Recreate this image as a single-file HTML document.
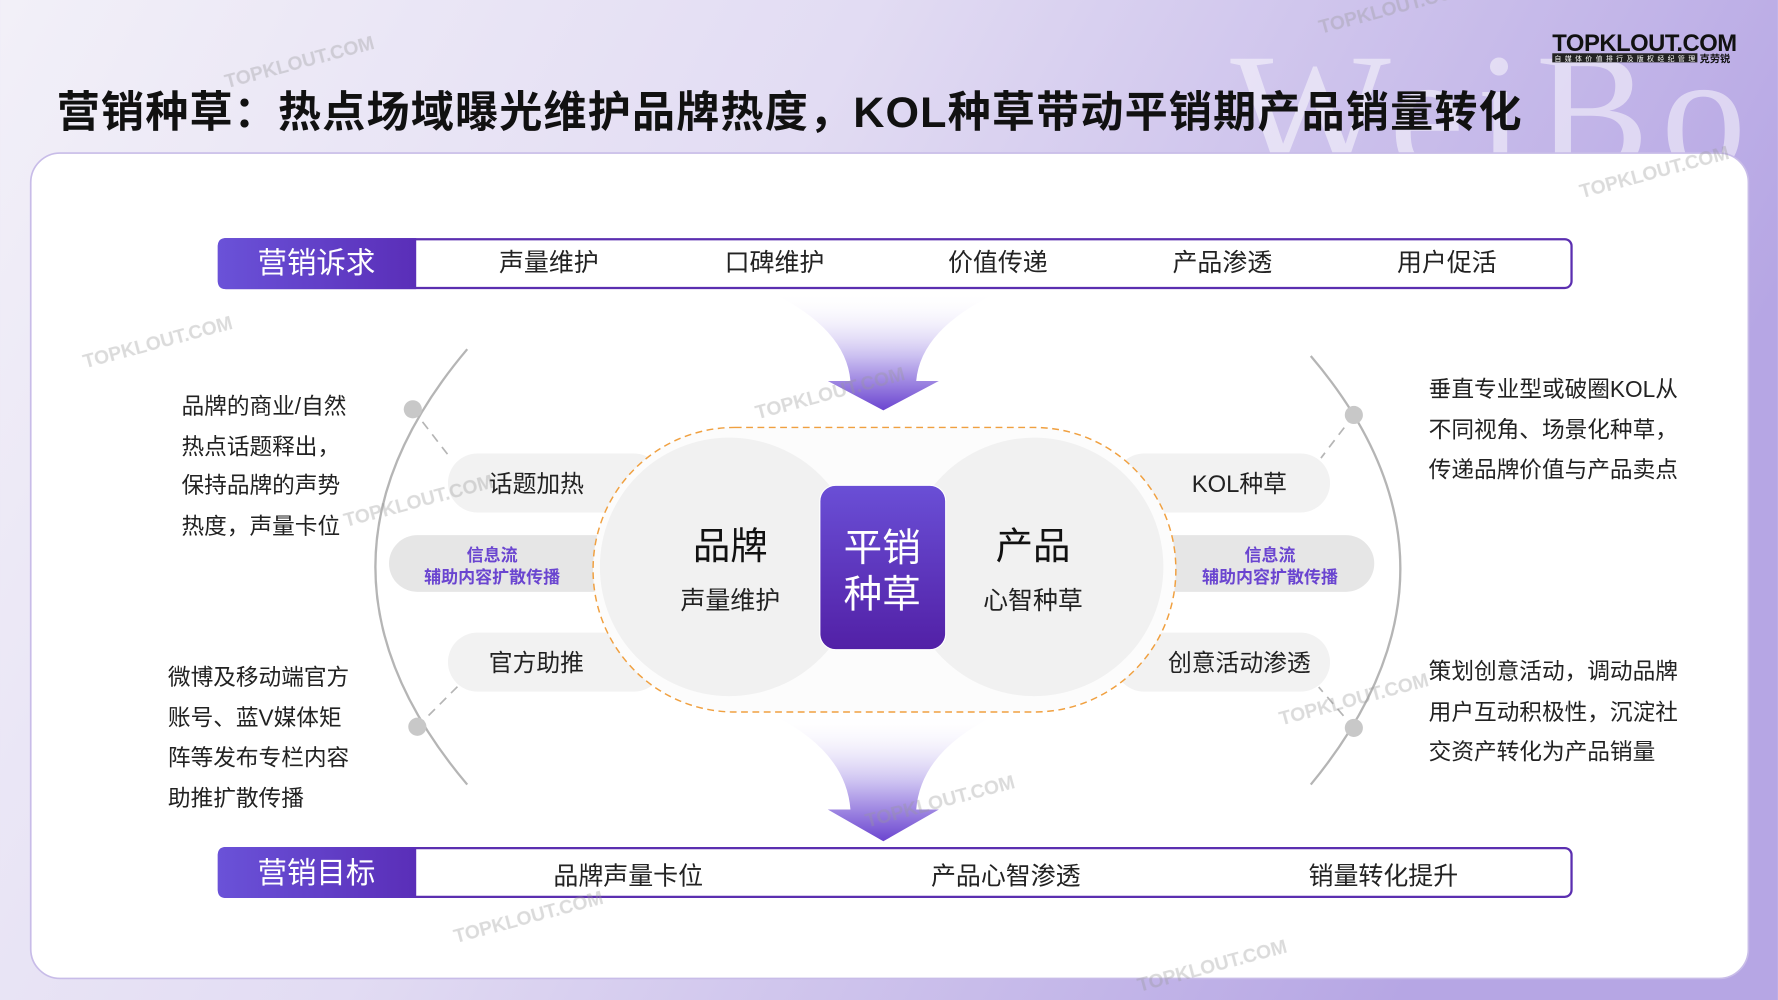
<!DOCTYPE html>
<html><head><meta charset="utf-8"><style>
html,body{margin:0;padding:0;width:1778px;height:1000px;overflow:hidden;background:#e9e4f5}
svg{display:block}
text{font-family:"Liberation Sans","Noto Sans CJK SC",sans-serif}
</style></head><body>
<svg width="1778" height="1000" viewBox="0 0 1568 882" xmlns="http://www.w3.org/2000/svg">
<defs>
<linearGradient id="bg" x1="0" y1="0" x2="1" y2="0.3">
<stop offset="0" stop-color="#f2f0f8"/><stop offset="0.45" stop-color="#e2dcf3"/><stop offset="1" stop-color="#b6a6e4"/>
</linearGradient>
<linearGradient id="pb" x1="0" y1="0" x2="0" y2="1">
<stop offset="0" stop-color="#6a4fd6"/><stop offset="1" stop-color="#5220a6"/>
</linearGradient>
<linearGradient id="lb" x1="0" y1="0" x2="1" y2="0">
<stop offset="0" stop-color="#6a52d8"/><stop offset="1" stop-color="#5a2eb8"/>
</linearGradient>
<linearGradient id="ar" x1="0" y1="0" x2="0" y2="1">
<stop offset="0" stop-color="#ffffff" stop-opacity="0"/><stop offset="0.55" stop-color="#c9bdf0"/><stop offset="1" stop-color="#6b45d0"/>
</linearGradient>
</defs>
<rect width="1568" height="882" fill="url(#bg)"/>
<text x="1085" y="150" style="font-family:'Liberation Serif',serif" font-size="150" fill="#fff" opacity="0.5" textLength="455">WeiBo</text>
<text x="50" y="112" font-size="38" font-weight="bold" fill="#111" textLength="1292">营销种草：热点场域曝光维护品牌热度，KOL种草带动平销期产品销量转化</text>
<text x="1369" y="45" font-size="21" font-weight="bold" fill="#111" textLength="163">TOPKLOUT.COM</text>
<rect x="1369" y="47" width="128" height="8" fill="#222"/>
<text x="1371" y="54" font-size="6" fill="#fff" textLength="124">自媒体价值排行及版权经纪管理</text>
<text x="1499" y="55" font-size="9" font-weight="bold" fill="#111">克劳锐</text>
<rect x="27" y="135" width="1515" height="728" rx="26" fill="#fff" stroke="#c8bce8" stroke-width="1.5"/>
<path d="M412 308 Q250 500 412 692" fill="none" stroke="#b5b5b5" stroke-width="2"/>
<path d="M1156 314 Q1314 500 1156 692" fill="none" stroke="#b5b5b5" stroke-width="2"/>
<g stroke="#b5b5b5" stroke-width="1.5" stroke-dasharray="8 6" fill="none">
<line x1="364" y1="361" x2="398" y2="405"/><line x1="368" y1="641" x2="404" y2="605"/>
<line x1="1194" y1="366" x2="1165" y2="404"/><line x1="1194" y1="642" x2="1163" y2="606"/>
</g>
<g fill="#c8c8c8"><circle cx="364" cy="361" r="8"/><circle cx="368" cy="641" r="8"/><circle cx="1194" cy="366" r="8"/><circle cx="1194" cy="642" r="8"/></g>
<path d="M680 258 L880 258 Q812 290 808 336 L828 336 L779 362 L730 336 L750 336 Q746 290 680 258Z" fill="url(#ar)"/>
<path d="M680 630 L880 630 Q812 662 808 714 L828 714 L779 742 L730 714 L750 714 Q746 662 680 630Z" fill="url(#ar)"/>
<g fill="#f2f2f2">
<rect x="395" y="400" width="190" height="52" rx="26"/><rect x="395" y="558" width="190" height="52" rx="26"/>
<rect x="983" y="400" width="190" height="52" rx="26"/><rect x="983" y="558" width="190" height="52" rx="26"/>
</g>
<g fill="#e6e6e6"><rect x="343" y="472" width="210" height="50" rx="25"/><rect x="1005" y="472" width="207" height="50" rx="25"/></g>
<rect x="523" y="377" width="514" height="251" rx="125" fill="#fcfcfc" stroke="#f0a040" stroke-width="1.3" stroke-dasharray="6 4"/>
<circle cx="643" cy="500" r="114" fill="#f1f1f1"/>
<circle cx="912" cy="500" r="114" fill="#f1f1f1"/>
<rect x="723" y="428" width="111" height="145" rx="14" fill="url(#pb)" stroke="#fff" stroke-width="1"/>
<g text-anchor="middle">
<text x="778" y="495" font-size="34" fill="#fff">平销</text>
<text x="778" y="536" font-size="34" fill="#fff">种草</text>
<text x="644" y="493" font-size="33" fill="#111">品牌</text>
<text x="644" y="537" font-size="22" fill="#222">声量维护</text>
<text x="911" y="493" font-size="33" fill="#111">产品</text>
<text x="911" y="537" font-size="22" fill="#222">心智种草</text>
<text x="473" y="434" font-size="21" fill="#222">话题加热</text>
<text x="473" y="592" font-size="21" fill="#222">官方助推</text>
<text x="1093" y="434" font-size="21" fill="#222">KOL种草</text>
<text x="1093" y="592" font-size="21" fill="#222">创意活动渗透</text>
<text x="434" y="495" font-size="15" font-weight="bold" fill="#6a45d0">信息流</text>
<text x="434" y="514" font-size="15" font-weight="bold" fill="#6a45d0">辅助内容扩散传播</text>
<text x="1120" y="495" font-size="15" font-weight="bold" fill="#6a45d0">信息流</text>
<text x="1120" y="514" font-size="15" font-weight="bold" fill="#6a45d0">辅助内容扩散传播</text>
</g>
<g font-size="20" fill="#222">
<text x="160" y="365">品牌的商业/自然</text><text x="160" y="401">热点话题释出，</text><text x="160" y="435">保持品牌的声势</text><text x="160" y="471">热度，声量卡位</text>
<text x="148" y="604">微博及移动端官方</text><text x="148" y="640">账号、蓝V媒体矩</text><text x="148" y="675">阵等发布专栏内容</text><text x="148" y="711">助推扩散传播</text>
<text x="1260" y="350">垂直专业型或破圈KOL从</text><text x="1260" y="386">不同视角、场景化种草，</text><text x="1260" y="421">传递品牌价值与产品卖点</text>
<text x="1260" y="599">策划创意活动，调动品牌</text><text x="1260" y="635">用户互动积极性，沉淀社</text><text x="1260" y="670">交资产转化为产品销量</text>
</g>
<rect x="193" y="211" width="1193" height="43" rx="6" fill="#fff" stroke="#5b2fb0" stroke-width="2"/>
<path d="M199 210 H367 V255 H199 Q192 255 192 248 V217 Q192 210 199 210Z" fill="url(#lb)"/>
<rect x="193" y="748" width="1193" height="43" rx="6" fill="#fff" stroke="#5b2fb0" stroke-width="2"/>
<path d="M199 747 H367 V792 H199 Q192 792 192 785 V754 Q192 747 199 747Z" fill="url(#lb)"/>
<g text-anchor="middle" font-size="22" fill="#222">
<text x="279" y="241" font-size="26" fill="#fff">营销诉求</text>
<text x="484" y="239">声量维护</text><text x="683" y="239">口碑维护</text><text x="880" y="239">价值传递</text><text x="1078" y="239">产品渗透</text><text x="1276" y="239">用户促活</text>
<text x="279" y="779" font-size="26" fill="#fff">营销目标</text>
<text x="554" y="780">品牌声量卡位</text><text x="887" y="780">产品心智渗透</text><text x="1220" y="780">销量转化提升</text>
</g>
<g font-size="17" font-weight="bold" fill="#999" opacity="0.35">
<text transform="translate(200,78) rotate(-15)">TOPKLOUT.COM</text>
<text transform="translate(75,325) rotate(-15)">TOPKLOUT.COM</text>
<text transform="translate(668,370) rotate(-15)">TOPKLOUT.COM</text>
<text transform="translate(305,465) rotate(-15)">TOPKLOUT.COM</text>
<text transform="translate(1395,175) rotate(-15)">TOPKLOUT.COM</text>
<text transform="translate(1130,640) rotate(-15)">TOPKLOUT.COM</text>
<text transform="translate(765,730) rotate(-15)">TOPKLOUT.COM</text>
<text transform="translate(402,832) rotate(-15)">TOPKLOUT.COM</text>
<text transform="translate(1005,875) rotate(-15)">TOPKLOUT.COM</text>
<text transform="translate(1165,30) rotate(-15)">TOPKLOUT.COM</text>
</g>
</svg>
</body></html>
